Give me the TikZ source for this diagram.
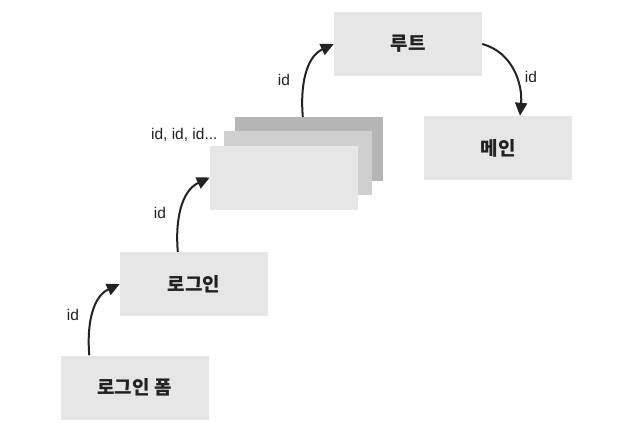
\documentclass[tikz,border=0pt]{standalone}
\usepackage{fontspec}
\newfontfamily\kr{Noto Sans CJK KR}
\setmainfont{Liberation Sans}
\usetikzlibrary{arrows.meta}
\definecolor{boxA}{HTML}{E6E6E6}
\definecolor{boxB}{HTML}{CFCFCF}
\definecolor{boxC}{HTML}{B5B5B5}
\definecolor{ink}{HTML}{222222}
\tikzset{
  pagebox/.style={fill=boxA, draw=none, minimum width=148pt, minimum height=64pt, inner sep=0pt, font=\kr\bfseries\fontsize{19}{22}\selectfont, text=ink},
  flow/.style={draw=ink, line width=2pt, -{Triangle[length=13pt,width=12pt]}},
  lbl/.style={font=\fontsize{15.5}{18}\selectfont, text=ink}
}
\begin{document}
\begin{tikzpicture}[x=1pt,y=-1pt]
\useasboundingbox (0,0) rectangle (638,439);
\node[pagebox] (form) at (134.5,387.5) {로그인 폼};
\node[pagebox] (login) at (194,284) {로그인};
\node[pagebox, fill=boxC] (back) at (309,149) {};
\node[pagebox, fill=boxB] (mid) at (298,163) {};
\node[pagebox] (front) at (284,177.5) {};
\node[pagebox] (root) at (408,44) {루트};
\node[pagebox] (main) at (498,148) {메인};
\coordinate (s1) at ([xshift=29pt]form.north west);
\coordinate (s2) at ([xshift=58pt]login.north west);
\coordinate (s3) at ([xshift=68pt]back.north west);
\coordinate (e4) at ([xshift=22pt]main.north);
\draw[flow] (s1) to[out=95,in=205] (login.west);
\draw[flow] (s2) to[out=95,in=205] (front.west);
\draw[flow] (s3) to[out=95,in=205] (root.west);
\draw[flow] (root.east) to[out=-15,in=85] (e4);
\node[lbl] (l1) at (73,315) {id};
\node[lbl] (l2) at (160,213) {id};
\node[lbl] (l3) at (284,80) {id};
\node[lbl] (l4) at (531,77) {id};
\node[lbl, anchor=east] (l5) at (221,135) {id, id, id...};
\end{tikzpicture}
\end{document}
